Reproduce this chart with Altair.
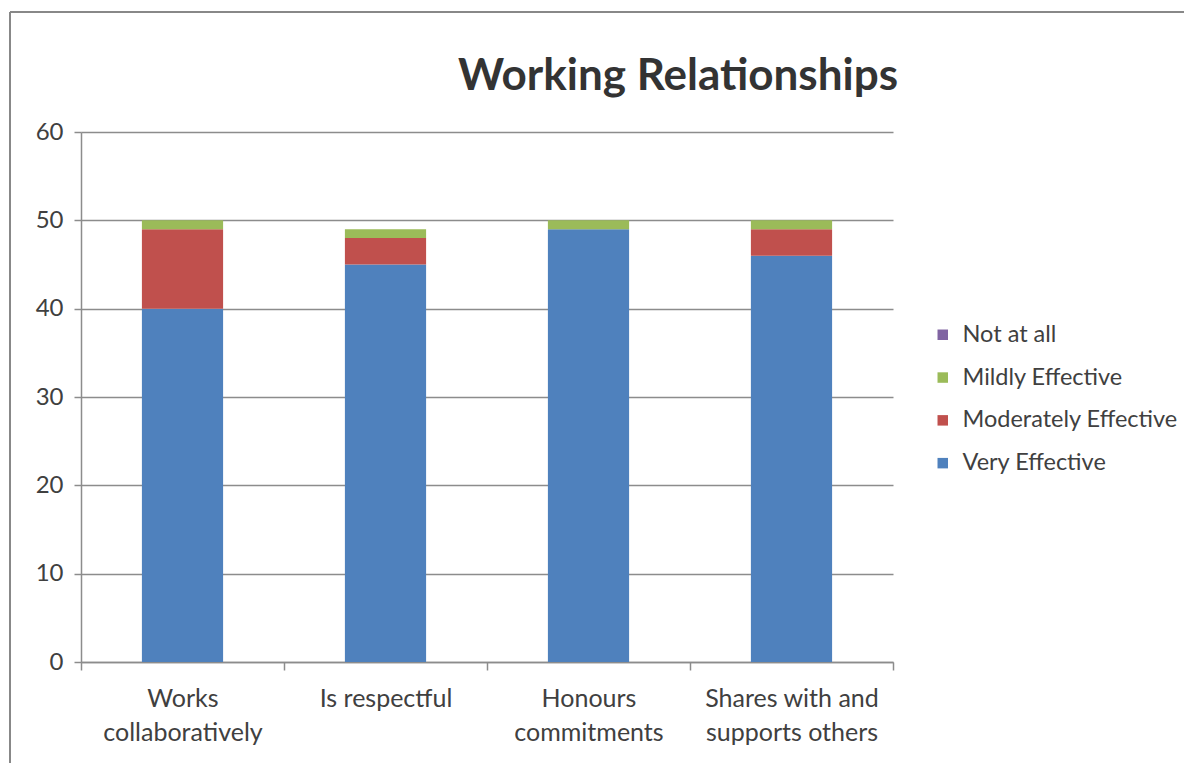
import altair as alt
import pandas as pd

categories = ["Works collaboratively", "Is respectful", "Honours commitments", "Shares with and supports others"]
label_lines = {
    "Works collaboratively": ["Works", "collaboratively"],
    "Is respectful": ["Is respectful"],
    "Honours commitments": ["Honours", "commitments"],
    "Shares with and supports others": ["Shares with and", "supports others"],
}
series = ["Not at all", "Mildly Effective", "Moderately Effective", "Very Effective"]
colors = ["#8064A2", "#9BBB59", "#C0504D", "#4F81BD"]
very_effective = [40, 45, 49, 46]
moderately_effective = [9, 3, 0, 3]
mildly_effective = [1, 1, 1, 1]
not_at_all = [0, 0, 0, 0]
y_ticks = [0, 10, 20, 30, 40, 50, 60]
title_text = "Working Relationships"

rows = []
for i, c in enumerate(categories):
    for s, vals, order in [("Very Effective", very_effective, 0),
                           ("Moderately Effective", moderately_effective, 1),
                           ("Mildly Effective", mildly_effective, 2),
                           ("Not at all", not_at_all, 3)]:
        rows.append({"category": c, "series": s, "value": vals[i], "stack_order": order})
df = pd.DataFrame(rows)

expr_parts = []
for k, v in label_lines.items():
    arr = "[" + ",".join("'" + x + "'" for x in v) + "]"
    expr_parts.append(f"datum.label == '{k}' ? {arr} : ")
label_expr = "".join(expr_parts) + "datum.label"

FONT = "Lato"
TXT = "#404040"
GRID = "#8C8C8C"

bars = alt.Chart(df).mark_bar(width=alt.RelativeBandSize(0.4)).encode(
    x=alt.X("category:N", sort=categories, title=None,
            scale=alt.Scale(paddingInner=0, paddingOuter=0),
            axis=alt.Axis(labelAngle=0, labelExpr=label_expr, tickBand="extent",
                          labelFontSize=25, labelColor=TXT, labelFont=FONT,
                          labelLineHeight=34, labelPadding=16,
                          tickSize=8, tickColor=GRID, domainColor=GRID,
                          domainWidth=1.5, tickWidth=1.5, grid=False)),
    y=alt.Y("value:Q", stack="zero", title=None,
            scale=alt.Scale(domain=[0, 60]),
            axis=alt.Axis(values=y_ticks, labelFontSize=24, labelColor=TXT, labelFont=FONT,
                          labelPadding=11, tickSize=7, tickColor=GRID, domainColor=GRID,
                          domainWidth=1.5, tickWidth=1.5, gridColor=GRID, gridWidth=1.5)),
    color=alt.Color("series:N", scale=alt.Scale(domain=series, range=colors),
                    legend=alt.Legend(title=None, orient="none", legendX=850, legendY=191,
                                      symbolType="square", symbolSize=110, symbolStrokeWidth=0,
                                      labelFontSize=23.5, labelFont=FONT, labelColor=TXT,
                                      labelOffset=8, rowPadding=17.8, labelLimit=400)),
    order=alt.Order("stack_order:Q", sort="ascending"),
)

frame_data = alt.Data(values=[{"t": title_text}])
frame_left = alt.Chart(frame_data).mark_rule(color="#888888", strokeWidth=2, clip=False).encode(
    x=alt.value(-71), y=alt.value(-120), y2=alt.value(800))
frame_top = alt.Chart(frame_data).mark_rule(color="#888888", strokeWidth=2, clip=False).encode(
    x=alt.value(-71), x2=alt.value(1300), y=alt.value(-120))
title = alt.Chart(frame_data).mark_text(font=FONT, fontSize=44, fontWeight="bold", color="#333333",
                                        align="center", baseline="alphabetic").encode(
    x=alt.value(597), y=alt.value(-42), text="t:N")

chart = alt.layer(frame_left, frame_top, title, bars).properties(
    width=812, height=530,
    autosize=alt.AutoSizeParams(type="none"),
    padding={"left": 73, "top": 124, "right": 291, "bottom": 101},
).configure_view(stroke=None)

chart.save("out.html", embed_options={"renderer": "svg", "actions": False})
